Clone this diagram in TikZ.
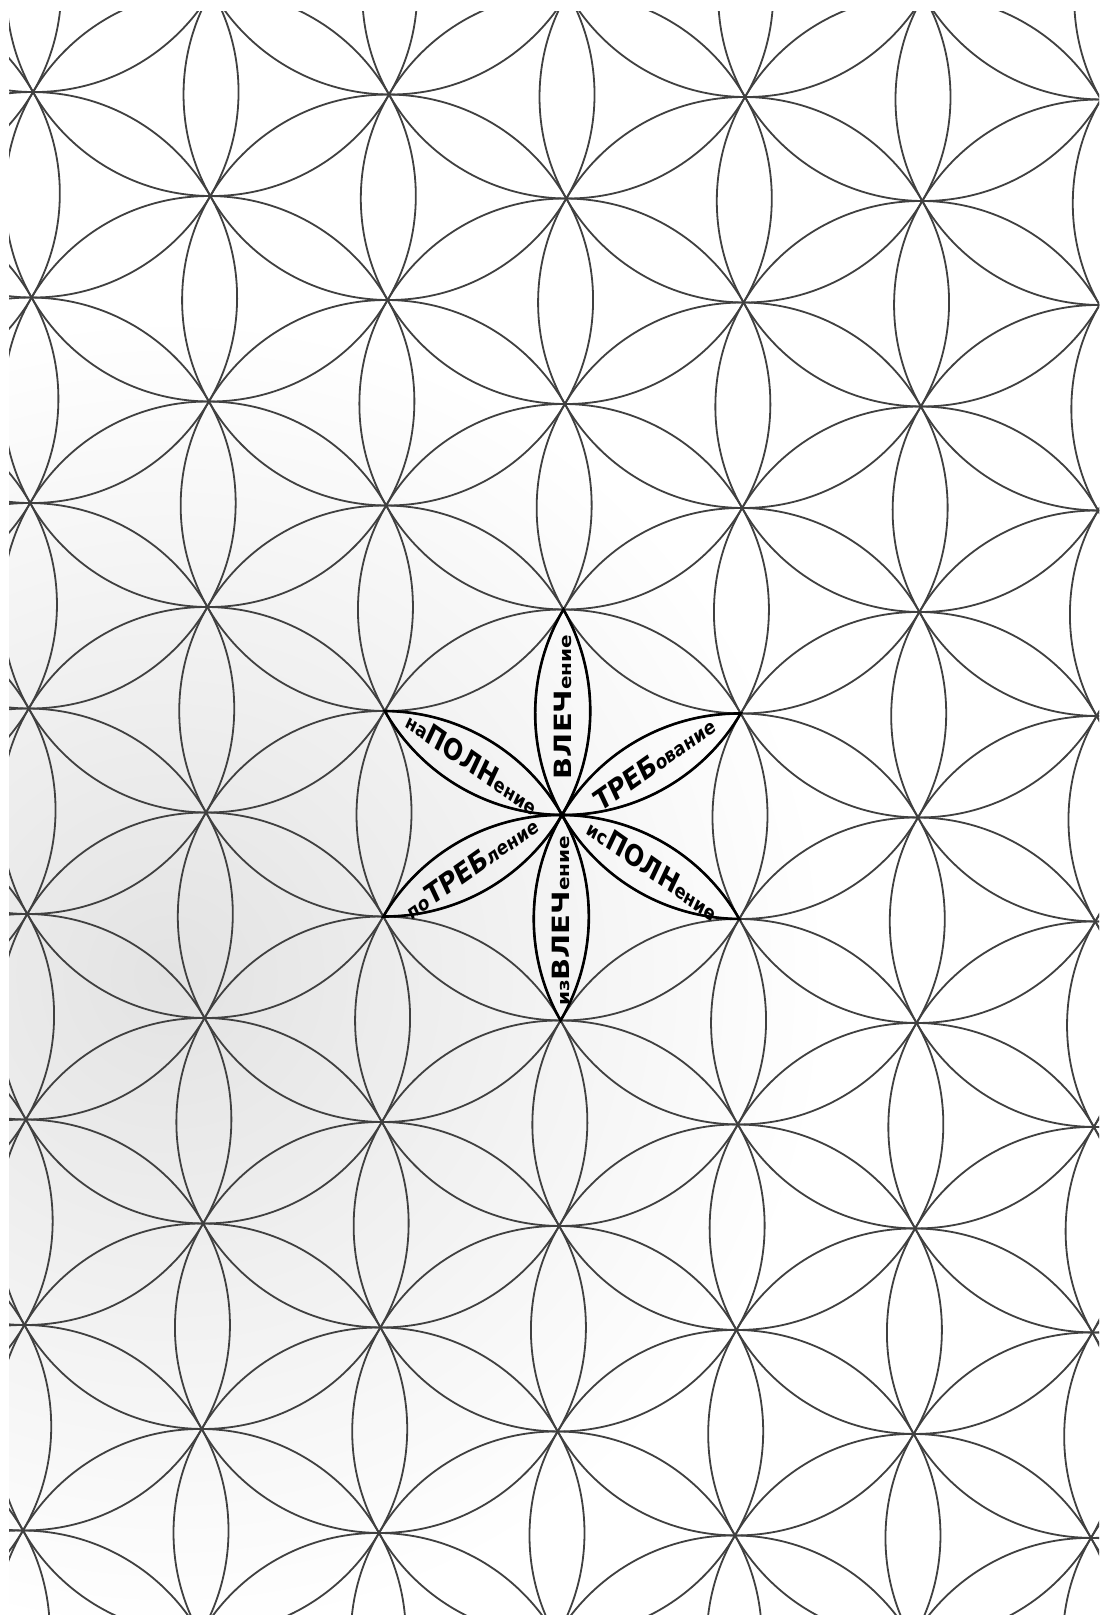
\documentclass[tikz,border=0pt]{standalone}
\usepackage{fontspec}
\setmainfont{DejaVu Sans}
\newcommand{\capw}[1]{{\fontsize{14.5}{14.5}\selectfont #1}}
\newcommand{\lowr}[1]{{\fontsize{10}{10}\selectfont #1}}
\begin{document}
\begin{tikzpicture}[x=0.5pt,y=0.5pt,
  gridline/.style={draw=black!75, line width=0.9pt},
  petal/.style={draw=black, line width=1.3pt},
  word/.style={inner sep=0pt, text=black, font=\bfseries, xscale=0.82}]
\useasboundingbox (0,0) rectangle (1099,1615);
\fill[white] (0,0) rectangle (1099,1615);
\begin{scope}
  \clip (9,0) rectangle (1099,1603);
  \shade[inner color=black!11, outer color=white] (170,640) circle[radius=330pt];
  \begin{scope}[shift={(562,800)}, rotate=-0.4]
    \foreach \i in {-4,...,4} {
      \foreach \j in {-8,...,8} {
        \draw[gridline] ({\i*178},{205.5*(\j+0.5*\i)}) circle[radius=102.75pt];
      }
    }
    \foreach \a in {90,30,-30,-90,-150,150} {
      \begin{scope}[rotate=\a-90]
        \draw[petal] (0,0) arc[start angle=210, end angle=150, radius=102.75pt]
                           arc[start angle=30, end angle=-30, radius=102.75pt] -- cycle;
      \end{scope}
    }
    \node[word, rotate=90] (w1) at (0,108) {\capw{ВЛЕЧ}\lowr{ение}};
    \node[word, rotate=30] (w2) at ({106*cos(30)},{106*sin(30)}) {\capw{ТРЕБ}\lowr{ование}};
    \node[word, rotate=-30] (w3) at ({106*cos(-30)},{106*sin(-30)}) {\lowr{ис}\capw{ПОЛН}\lowr{ение}};
    \node[word, rotate=90] (w4) at (0,-106) {\lowr{из}\capw{ВЛЕЧ}\lowr{ение}};
    \node[word, rotate=30] (w5) at ({104*cos(210)},{104*sin(210)}) {\lowr{по}\capw{ТРЕБ}\lowr{ление}};
    \node[word, rotate=-30] (w6) at ({104*cos(150)},{104*sin(150)}) {\lowr{на}\capw{ПОЛН}\lowr{ение}};
  \end{scope}
\end{scope}
\end{tikzpicture}
\end{document}
